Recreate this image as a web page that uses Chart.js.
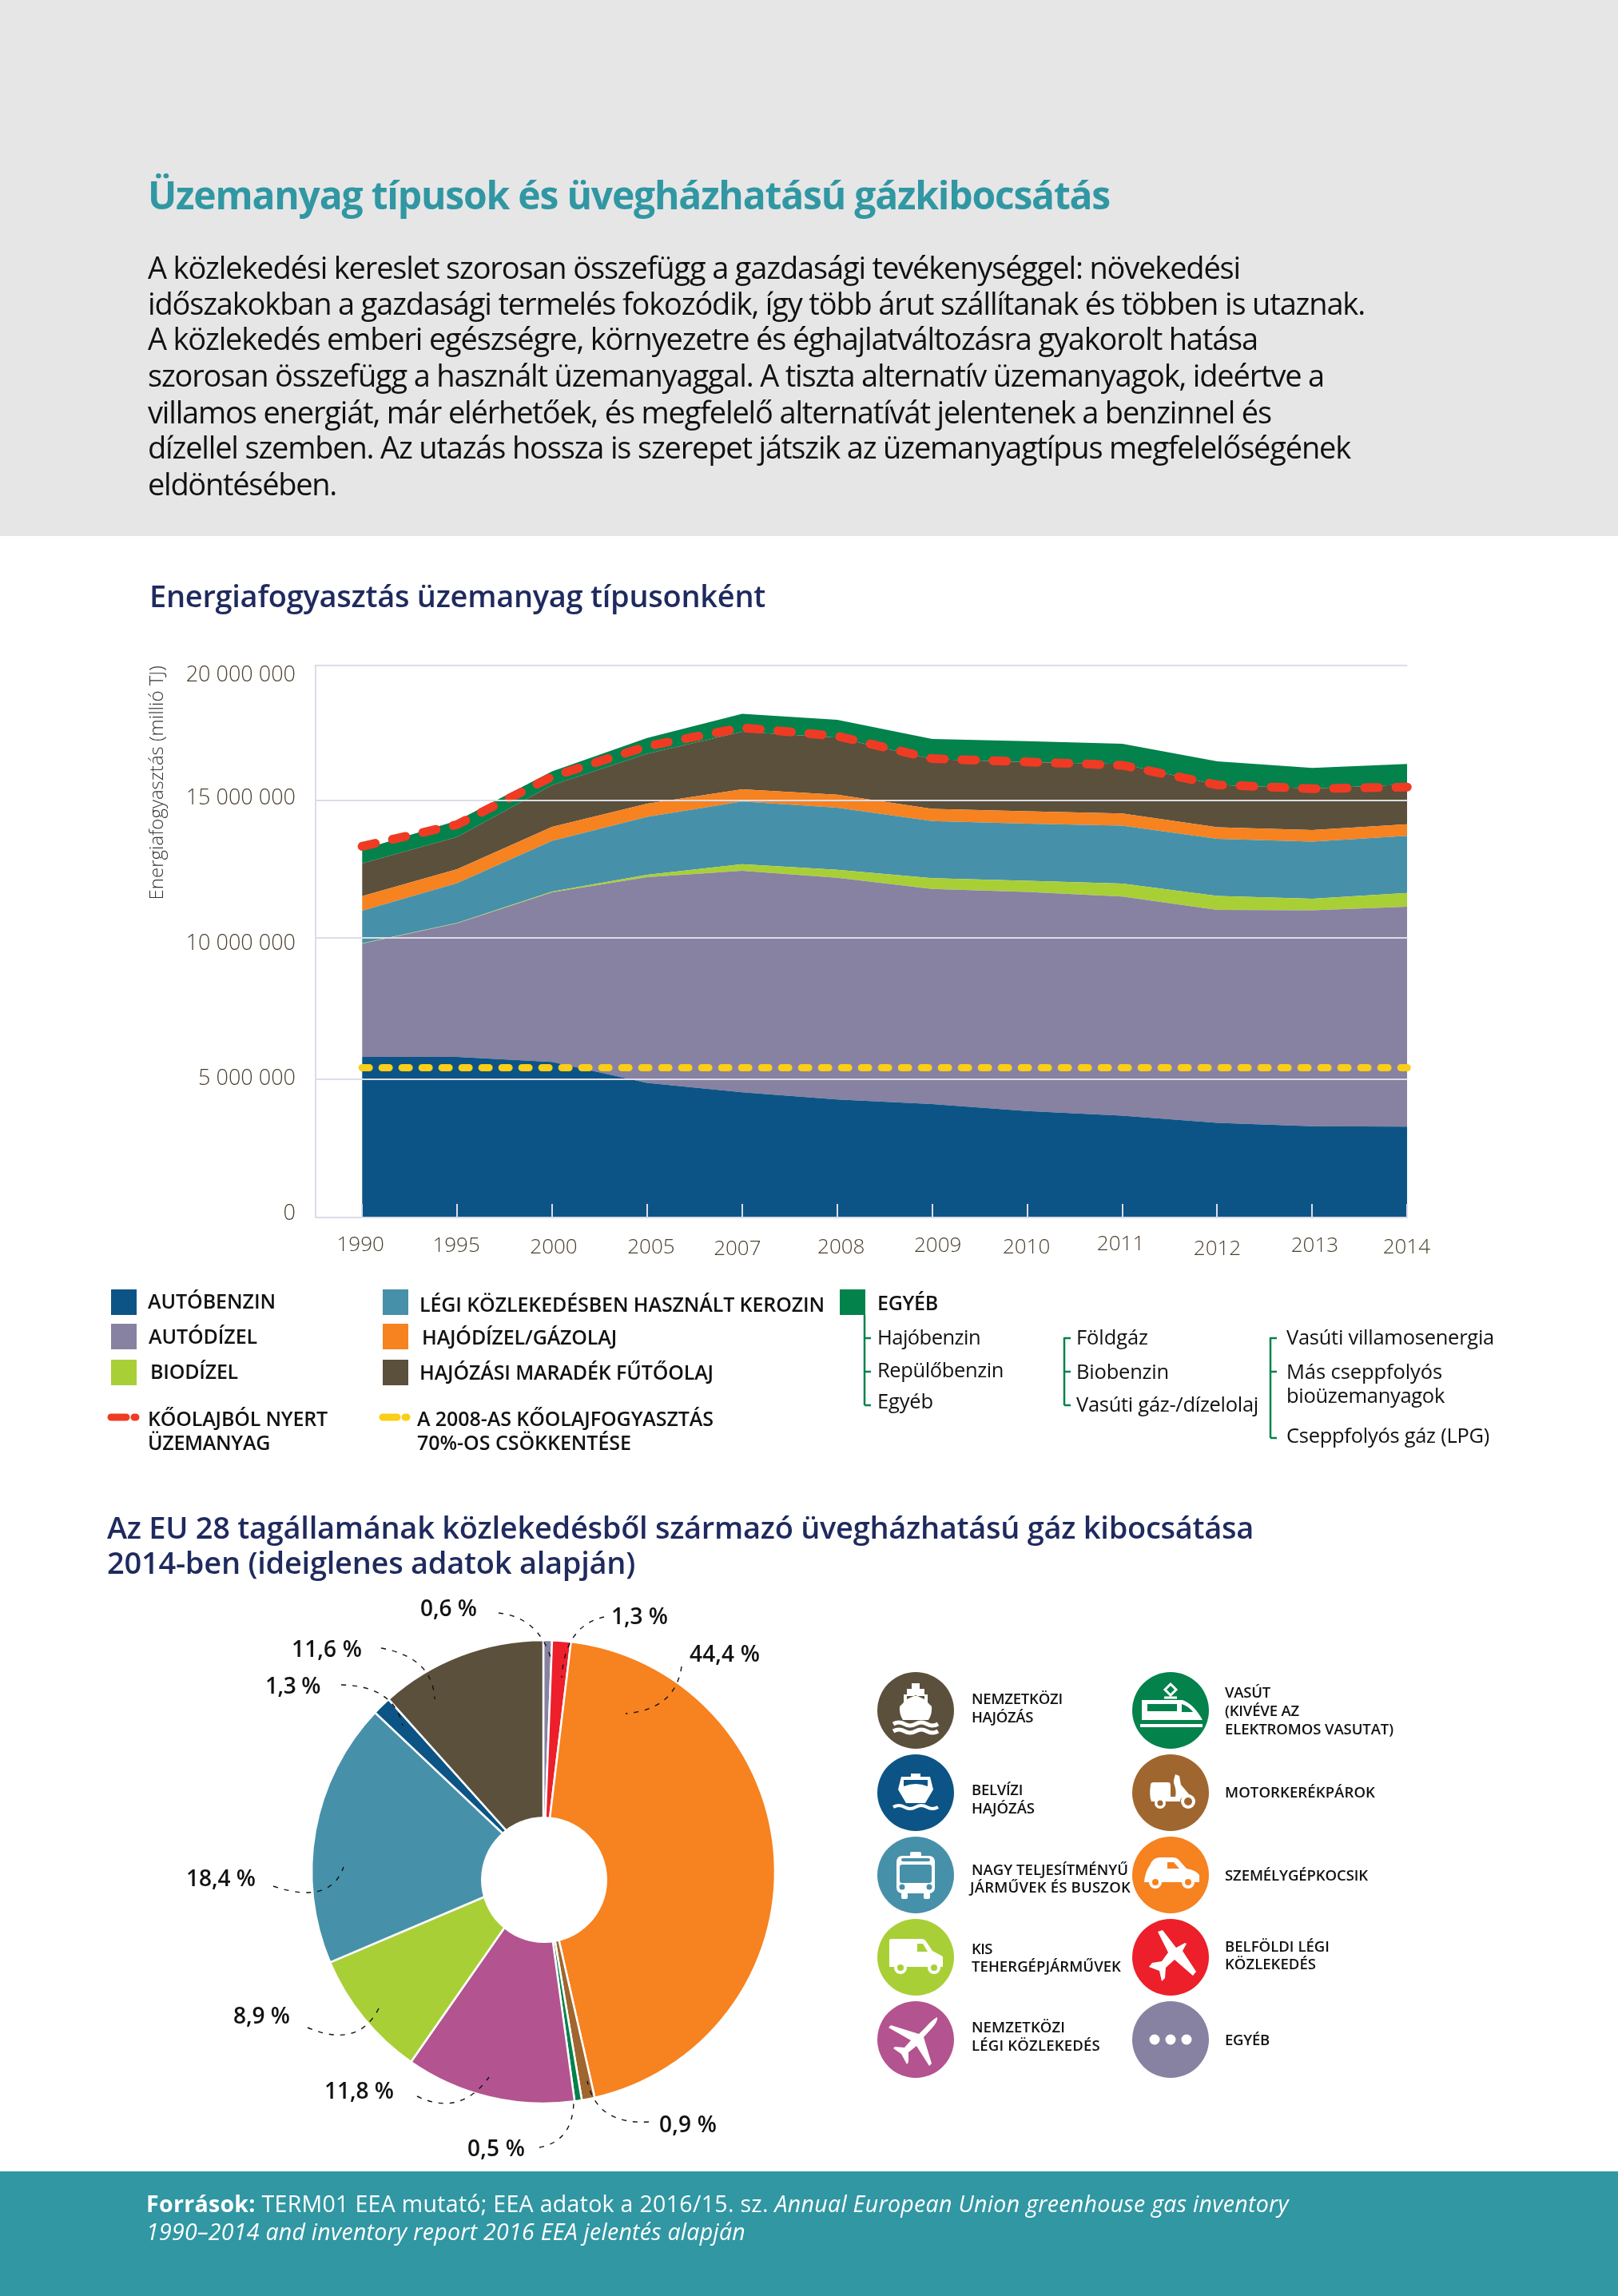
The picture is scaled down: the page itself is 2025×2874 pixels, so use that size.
<!DOCTYPE html>
<html lang="hu">
<head>
<meta charset="utf-8">
<title>Üzemanyag típusok és üvegházhatású gázkibocsátás</title>
<script src="https://cdn.jsdelivr.net/npm/chart.js@4/dist/chart.umd.min.js"></script>
<style>
  html, body { margin: 0; padding: 0; background: #fff; }
  body { position: relative; width: 2025px; height: 2874px; overflow: hidden; font-family: "Open Sans", sans-serif; }
  .band { position: absolute; left: 0; width: 2025px; }
  .txt { position: absolute; white-space: pre; line-height: 1; transform: translateY(-50%); }
  canvas { position: absolute; }
  svg { position: absolute; left: 0; top: 0; }
</style>
</head>
<body>
<div class="band" style="top:0;height:671px;background:#e6e6e6"></div>
<div class="band" style="top:2718px;height:156px;background:#3097a3"></div>

<canvas id="areaChart" width="1652" height="788" style="left:175px;top:792px"></canvas>
<canvas id="pieChart" width="640" height="640" style="left:360px;top:2023px"></canvas>

<svg width="2025" height="2874" viewBox="0 0 2025 2874">
  <!-- legend swatches -->
  <g>
    <rect x="139" y="1614" width="32" height="32" fill="#0d5486"/>
    <rect x="139" y="1657" width="32" height="32" fill="#8781a2"/>
    <rect x="139" y="1702" width="32" height="32" fill="#a9cf37"/>
    <rect x="479" y="1614" width="32" height="32" fill="#4790a9"/>
    <rect x="479" y="1657" width="32" height="32" fill="#f68220"/>
    <rect x="479" y="1702" width="32" height="32" fill="#5b503c"/>
    <rect x="1051" y="1614" width="32" height="32" fill="#03824c"/>
  </g>
  <!-- dashed line keys -->
  <g fill="none" stroke-width="9" stroke-linecap="round">
    <path d="M139 1774H158M168 1774H170" stroke="#ef3b24"/>
    <path d="M479 1774H497M507 1774H509" stroke="#fbce17"/>
  </g>
  <!-- brackets of the other fuels -->
  <g fill="none" stroke="#03824c" stroke-width="2.5">
    <path d="M1082 1646V1759M1082 1675H1090M1082 1717H1090M1082 1759H1090"/>
    <path d="M1332 1674V1759M1332 1675H1340M1332 1717H1340M1332 1759H1340"/>
    <path d="M1590 1674V1800M1590 1675H1598M1590 1717H1598M1590 1800H1598"/>
  </g>
  <!-- pie leaders -->
  <g fill="none" stroke="#111" stroke-width="1.4" stroke-dasharray="6 8">
    <path d="M624 2019Q676 2025 691 2081"/>
    <path d="M756 2024Q707 2035 703 2100"/>
    <path d="M853 2086Q845 2140 783 2145"/>
    <path d="M477 2063Q542 2075 544 2127"/>
    <path d="M427 2109Q492 2110 504 2160"/>
    <path d="M342 2361Q413 2385 430 2337"/>
    <path d="M385 2538Q448 2565 474 2514"/>
    <path d="M522 2624Q576 2650 612 2600"/>
    <path d="M675 2688Q717 2680 718 2631"/>
    <path d="M812 2656Q747 2660 735 2605"/>
  </g>
  <!-- sector icons -->
  <g transform="translate(1146 2141)">
    <circle r="48" fill="#5b503c"/>
    <path fill="#fff" d="M-5 -34H5V-27H11V-20H15V-10L20 -5Q21 4 16 12H-16Q-21 4 -20 -5L-15 -10V-20H-11V-27H-5Z"/>
    <path fill="#5b503c" d="M-11 -18H11V-14L0 -19L-11 -14Z"/>
    <path fill="none" stroke="#fff" stroke-width="5" d="M-28 17Q-21 13 -14 17T0 17T14 17T28 17M-28 26Q-21 22 -14 26T0 26T14 26T28 26"/>
  </g>
  <g transform="translate(1146 2244)">
    <circle r="48" fill="#0d5486"/>
    <path fill="#fff" d="M-6 -24H6V-20H18L22 -4L12 13H-12L-22 -4L-18 -20H-6Z"/>
    <path fill="#0d5486" d="M-15 -16H15V-8Q0 -14 -15 -8Z"/>
    <path fill="none" stroke="#fff" stroke-width="4" d="M-28 18Q-21 14 -14 18T0 18T14 18T28 18"/>
  </g>
  <g transform="translate(1146 2347)">
    <circle r="48" fill="#4790a9"/>
    <rect x="-24" y="-24" width="48" height="47" rx="7" fill="#fff"/>
    <rect x="-7" y="-29" width="14" height="6" rx="2" fill="#fff"/>
    <rect x="-20" y="-13" width="40" height="23" rx="3" fill="#4790a9"/>
    <rect x="-18" y="-21" width="36" height="4" rx="2" fill="#4790a9"/>
    <circle cx="-17" cy="15" r="3.5" fill="#4790a9"/><circle cx="17" cy="15" r="3.5" fill="#4790a9"/>
    <rect x="-18" y="22" width="8" height="8" rx="2" fill="#fff"/><rect x="10" y="22" width="8" height="8" rx="2" fill="#fff"/>
  </g>
  <g transform="translate(1146 2450)">
    <circle r="48" fill="#a9cf37"/>
    <path fill="#fff" d="M-33 -21Q-33 -23 -30 -23H7Q11 -23 13 -20L21 -8L34 -1V12H-33Z"/>
    <path fill="#a9cf37" d="M2 -17H9L15 -7H2Z"/>
    <circle cx="-19" cy="13" r="8" fill="#fff"/><circle cx="-19" cy="13" r="4" fill="#a9cf37"/>
    <circle cx="23" cy="13" r="8" fill="#fff"/><circle cx="23" cy="13" r="4" fill="#a9cf37"/>
  </g>
  <g transform="translate(1146 2553)">
    <circle r="48" fill="#b35390"/>
    <path fill="#fff" d="M27 -28Q21 -25 14 -17L4 -7L-31 -18L-34 -15L-6 1L-14 10L-26 9L-28 11L-18 18L-11 31L-9 28L-9 16L1 8L17 33L20 30L10 -3L21 -15Q28 -23 27 -28Z"/>
  </g>
  <g transform="translate(1465 2141)">
    <circle r="48" fill="#03824c"/>
    <path fill="none" stroke="#fff" stroke-width="3" d="M0 -33L-7 -26L0 -19L7 -26ZM-8 -16H8"/>
    <path fill="#fff" d="M-36 -13H15Q29 -8 40 12H-36Z"/>
    <path fill="#03824c" d="M-29 -8H8V1H-29ZM14 -8Q23 -5 28 2H14Z"/>
    <path fill="#fff" d="M-38 17H40V21H-38Z"/>
  </g>
  <g transform="translate(1465 2244)">
    <circle r="48" fill="#a0662f"/>
    <path fill="#fff" d="M6 -23L11 -21L13 -10L24 3L16 6Q12 6 12 11H-24Q-27 4 -25 -10Q-25 -13 -21 -13H-3Q0 -13 0 -9V5H6Q8 -2 4 -12V-16Z"/>
    <circle cx="-13" cy="13" r="7" fill="#fff"/><circle cx="-13" cy="13" r="3.5" fill="#a0662f"/>
    <circle cx="22" cy="11" r="9" fill="#fff"/><circle cx="22" cy="11" r="5" fill="#a0662f"/>
  </g>
  <g transform="translate(1465 2347)">
    <circle r="48" fill="#f68220"/>
    <path fill="#fff" d="M-33 9Q-32 -4 -26 -12Q-22 -22 -14 -22H3Q8 -22 12 -17L20 -8Q32 -6 36 0L36 9Z"/>
    <path fill="#f68220" d="M-4 -16H4L11 -8H-4Z"/>
    <circle cx="-19" cy="9" r="8" fill="#fff"/><circle cx="-19" cy="9" r="4" fill="#f68220"/>
    <circle cx="22" cy="9" r="8" fill="#fff"/><circle cx="22" cy="9" r="4" fill="#f68220"/>
  </g>
  <g transform="translate(1465 2450)">
    <circle r="48" fill="#ec1f2b"/>
    <path fill="#fff" d="M-16 -32L-10 -34L7 -12L18 -18L20 -17L15 -8L32 18L28 23L5 3L-6 13L-7 26L-11 30L-14 17L-27 12L-23 7L-11 5L-3 -6Z"/>
  </g>
  <g transform="translate(1465 2553)">
    <circle r="48" fill="#8781a2"/>
    <circle cx="-20" r="6.5" fill="#fff"/><circle r="6.5" fill="#fff"/><circle cx="20" r="6.5" fill="#fff"/>
  </g>
</svg>

<script>
// categories and series
const years = ['1990','1995','2000','2005','2007','2008','2009','2010','2011','2012','2013','2014'];
const autobenzin = [5820000,5820000,5640000,4880000,4535000,4280000,4110000,3855000,3690000,3430000,3310000,3295000];
const autodizel = [4100000,4840000,6140000,7450000,8030000,8030000,7800000,7940000,7940000,7720000,7820000,7970000];
const biodizel = [15000,15000,30000,90000,240000,290000,390000,410000,470000,500000,420000,500000];
const kerozin = [1180000,1440000,1840000,2100000,2270000,2250000,2070000,2070000,2100000,2070000,2070000,2070000];
const hajodizel = [530000,510000,510000,480000,440000,470000,440000,450000,440000,420000,420000,420000];
const maradekOlaj = [1190000,1160000,1510000,1810000,2090000,2070000,1800000,1780000,1800000,1540000,1510000,1440000];
const egyeb = [500000,600000,500000,570000,650000,650000,730000,760000,730000,850000,740000,740000];
const koolajbol = [13450000,14240000,15980000,17080000,17750000,17450000,16630000,16510000,16390000,15680000,15540000,15600000];
const csokkentes = [5430000,5430000,5430000,5430000,5430000,5430000,5430000,5430000,5430000,5430000,5430000,5430000];

// the gridlines of the original are not evenly spaced, so the ticks sit where it drew them
const yTickValues = [0,5000000,10120000,15120000,20000000];
const yTickLabels = ['0','5 000 000','10 000 000','15 000 000','20 000 000'];

// the hand placed labels of the original wander a bit: [dx, dy] per tick
const xNudge = [[-2,0],[-1,1],[2,3],[5,3],[-6,5],[5,3],[7,1],[-1,3],[-2,-1],[0,5],[3,1],[-1,3]];
const yNudge = [[0,-5],[0,-1],[0,7],[0,-2],[0,12]];

const pieLabels = ['Egyéb','Belföldi légi közlekedés','Személygépkocsik','Motorkerékpárok','Vasút','Nemzetközi légi közlekedés','Kis tehergépjárművek','Nagy teljesítményű járművek és buszok','Belvízi hajózás','Nemzetközi hajózás'];
const pieValues = [0.6,1.3,44.4,0.9,0.5,11.8,8.9,18.4,1.3,11.6];
const pieColors = ['#8781a2','#ec1f2b','#f68220','#a0662f','#03824c','#b35390','#a9cf37','#4790a9','#0d5486','#5b503c'];

// page texts: x, middle y, right edge, text, size, weight, colour
const navy = '#1f2a5e', ink = '#111', teal = '#3097a3';
const pageTexts = [
  [185,244,1389,'Üzemanyag típusok és üvegházhatású gázkibocsátás',48,700,teal],
  [185,334,1552,'A közlekedési kereslet szorosan összefügg a gazdasági tevékenységgel: növekedési',38,400,ink],
  [185,379,1708,'időszakokban a gazdasági termelés fokozódik, így több árut szállítanak és többen is utaznak.',38,400,ink],
  [185,423,1574,'A közlekedés emberi egészségre, környezetre és éghajlatváltozásra gyakorolt hatása',38,400,ink],
  [185,469,1657,'szorosan összefügg a használt üzemanyaggal. A tiszta alternatív üzemanyagok, ideértve a',38,400,ink],
  [185,515,1591,'villamos energiát, már elérhetőek, és megfelelő alternatívát jelentenek a benzinnel és',38,400,ink],
  [185,559,1690,'dízellel szemben. Az utazás hossza is szerepet játszik az üzemanyagtípus megfelelőségének',38,400,ink],
  [185,605,421,'eldöntésében.',38,400,ink],
  [187,745,958,'Energiafogyasztás üzemanyag típusonként',38,600,navy],
  [134,1911,1569,'Az EU 28 tagállamának közlekedésből származó üvegházhatású gáz kibocsátása',38,600,navy],
  [134,1955,795,'2014-ben (ideiglenes adatok alapján)',38,600,navy],
  // legend
  [185,1628,345,'AUTÓBENZIN',25,600,ink],
  [186,1672,322,'AUTÓDÍZEL',25,600,ink],
  [188,1716,298,'BIODÍZEL',25,600,ink],
  [525,1632,1032,'LÉGI KÖZLEKEDÉSBEN HASZNÁLT KEROZIN',25,600,ink],
  [528,1673,772,'HAJÓDÍZEL/GÁZOLAJ',25,600,ink],
  [525,1717,893,'HAJÓZÁSI MARADÉK FŰTŐOLAJ',25,600,ink],
  [1098,1630,1174,'EGYÉB',25,600,ink],
  [1098,1674,1227,'Hajóbenzin',25.5,400,ink],
  [1098,1715,1256,'Repülőbenzin',25.5,400,ink],
  [1098,1754,1168,'Egyéb',25.5,400,ink],
  [1347,1674,1437,'Földgáz',25.5,400,ink],
  [1347,1717,1463,'Biobenzin',25.5,400,ink],
  [1347,1758,1575,'Vasúti gáz-/dízelolaj',25.5,400,ink],
  [1610,1674,1870,'Vasúti villamosenergia',25.5,400,ink],
  [1610,1717,1805,'Más cseppfolyós',25.5,400,ink],
  [1610,1747,1808,'bioüzemanyagok',25.5,400,ink],
  [1610,1797,1864,'Cseppfolyós gáz (LPG)',25.5,400,ink],
  [185,1775,410,'KŐOLAJBÓL NYERT',25,600,ink],
  [185,1805,338,'ÜZEMANYAG',25,600,ink],
  [522,1775,893,'A 2008-AS KŐOLAJFOGYASZTÁS',25,600,ink],
  [522,1805,790,'70%-OS CSÖKKENTÉSE',25,600,ink],
  // pie labels
  [526,2012,597,'0,6 %',28,600,ink],
  [765,2022,836,'1,3 %',28,600,ink],
  [863,2069,951,'44,4 %',28,600,ink],
  [365,2063,453,'11,6 %',28,600,ink],
  [332,2109,401,'1,3 %',28,600,ink],
  [233,2350,320,'18,4 %',28,600,ink],
  [292,2522,363,'8,9 %',28,600,ink],
  [406,2616,493,'11,8 %',28,600,ink],
  [585,2688,657,'0,5 %',28,600,ink],
  [825,2658,897,'0,9 %',28,600,ink],
  // icon captions
  [1216,2126,1330,'NEMZETKÖZI',18.5,600,ink],
  [1216,2149,1293,'HAJÓZÁS',18.5,600,ink],
  [1216,2240,1280,'BELVÍZI',18.5,600,ink],
  [1216,2263,1295,'HAJÓZÁS',18.5,600,ink],
  [1216,2340,1412,'NAGY TELJESÍTMÉNYŰ',18.5,600,ink],
  [1214,2362,1415,'JÁRMŰVEK ÉS BUSZOK',18.5,600,ink],
  [1216,2439,1242,'KIS',18.5,600,ink],
  [1216,2461,1403,'TEHERGÉPJÁRMŰVEK',18.5,600,ink],
  [1216,2537,1333,'NEMZETKÖZI',18.5,600,ink],
  [1216,2560,1377,'LÉGI KÖZLEKEDÉS',18.5,600,ink],
  [1533,2118,1590,'VASÚT',18.5,600,ink],
  [1533,2141,1626,'(KIVÉVE AZ',18.5,600,ink],
  [1533,2164,1744,'ELEKTROMOS VASUTAT)',18.5,600,ink],
  [1533,2243,1721,'MOTORKERÉKPÁROK',18.5,600,ink],
  [1533,2347,1712,'SZEMÉLYGÉPKOCSIK',18.5,600,ink],
  [1533,2436,1664,'BELFÖLDI LÉGI',18.5,600,ink],
  [1533,2458,1647,'KÖZLEKEDÉS',18.5,600,ink],
  [1533,2553,1589,'EGYÉB',18.5,600,ink],
  // sources
  [183,2758,1613,'<b>Források:</b> TERM01 EEA mutató; EEA adatok a 2016/15. sz. <i>Annual European Union greenhouse gas inventory</i>',28.5,400,'#fff'],
  [183,2793,933,'<i>1990–2014 and inventory report 2016 EEA jelentés alapján</i>',28.5,400,'#fff']
];

//put the texts on the page and squeeze them to the width they have in the original
pageTexts.forEach(([x, y, right, text, size, weight, color]) => {
  const el = document.createElement('div');
  el.className = 'txt';
  el.innerHTML = text;
  el.style.cssText = `left:${x}px;top:${y}px;font-size:${size}px;font-weight:${weight};color:${color}`;
  document.body.appendChild(el);
  const extra = (right - x) - el.getBoundingClientRect().width;
  el.style.letterSpacing = `${extra / el.textContent.length}px`;
});

//moves the axis labels after the library has placed them
const tickNudge = {
  id: 'tickNudge',
  afterUpdate(chart) {
    [['x', xNudge], ['y', yNudge]].forEach(([id, nudge]) => {
      chart.scales[id].getLabelItems().forEach((item, i) => {
        item.options.translation[0] += nudge[i][0];
        item.options.translation[1] += nudge[i][1];
      });
    });
  }
};

const toPoints = values => values.map((v, i) => ({ x: i, y: v }));

function areaSet(label, values, color, fill) {
  return {
    label: label,
    data: toPoints(values),
    backgroundColor: color,
    borderColor: color,
    borderWidth: 0,
    pointRadius: 0,
    tension: 0,
    fill: fill,
    order: 2
  };
}

function dashSet(label, values, color, width, dash) {
  return {
    label: label,
    data: toPoints(values),
    borderColor: color,
    borderWidth: width,
    borderDash: dash,
    borderCapStyle: 'round',
    pointRadius: 0,
    tension: 0,
    fill: false,
    stack: label,
    clip: false,
    order: 1
  };
}

const gridColor = '#dcdce8';
const axisInk = '#4a3f2e';

new Chart(document.getElementById('areaChart'), {
  type: 'line',
  data: {
    datasets: [
      areaSet('Autóbenzin', autobenzin, '#0d5486', 'origin'),
      areaSet('Autódízel', autodizel, '#8781a2', '-1'),
      areaSet('Biodízel', biodizel, '#a9cf37', '-1'),
      areaSet('Légi közlekedésben használt kerozin', kerozin, '#4790a9', '-1'),
      areaSet('Hajódízel/gázolaj', hajodizel, '#f68220', '-1'),
      areaSet('Hajózási maradék fűtőolaj', maradekOlaj, '#5b503c', '-1'),
      areaSet('Egyéb', egyeb, '#03824c', '-1'),
      dashSet('Kőolajból nyert üzemanyag', koolajbol, '#ef3b24', 11, [17, 22]),
      dashSet('A 2008-as kőolajfogyasztás 70%-os csökkentése', csokkentes, '#fbce17', 9, [9, 16])
    ]
  },
  options: {
    responsive: false,
    animation: false,
    plugins: { legend: { display: false }, tooltip: { enabled: false } },
    events: [],
    scales: {
      x: {
        type: 'linear',
        min: -0.489,
        max: 11,
        afterFit: scale => { scale.height = 56; },
        ticks: {
          stepSize: 1,
          includeBounds: false,
          autoSkip: false,
          maxRotation: 0,
          padding: 36,
          color: axisInk,
          font: { family: 'Open Sans', size: 26, weight: 300 },
          callback: v => years[v]
        },
        grid: { drawOnChartArea: false, color: gridColor, lineWidth: 2, tickLength: -17, z: 1 },
        border: { color: gridColor, width: 2, z: 1 }
      },
      y: {
        stacked: true,
        min: 0,
        max: 20000000,
        afterFit: scale => { scale.width = 220; },
        afterBuildTicks: scale => { scale.ticks = yTickValues.map(v => ({ value: v })); },
        ticks: {
          autoSkip: false,
          padding: 25,
          color: axisInk,
          font: { family: 'Open Sans', size: 27, weight: 300 },
          callback: (v, i) => yTickLabels[i]
        },
        grid: { color: gridColor, lineWidth: 2, drawTicks: false, z: 1 },
        border: { color: gridColor, width: 2, z: 1 },
        title: {
          display: true,
          text: 'Energiafogyasztás (millió TJ)',
          align: 'end',
          color: '#333',
          padding: { top: 8, bottom: 0 },
          font: { family: 'Open Sans', size: 24, weight: 300 }
        }
      }
    }
  },
  plugins: [tickNudge]
});

//the hole in the original is not centred on the pie, so it is punched by hand
const pieHole = {
  id: 'pieHole',
  afterDatasetsDraw(chart) {
    const arc = chart.getDatasetMeta(0).data[0];
    const ctx = chart.ctx;
    ctx.save();
    ctx.fillStyle = '#fff';
    ctx.beginPath();
    ctx.arc(arc.x + 1, arc.y + 10, 79, 0, Math.PI * 2);
    ctx.fill();
    ctx.restore();
  }
};

new Chart(document.getElementById('pieChart'), {
  type: 'pie',
  data: {
    labels: pieLabels,
    datasets: [{
      data: pieValues,
      backgroundColor: pieColors,
      borderColor: '#fff',
      borderWidth: 2.5
    }]
  },
  options: {
    responsive: false,
    animation: false,
    radius: 290,
    events: [],
    plugins: { legend: { display: false }, tooltip: { enabled: false } }
  },
  plugins: [pieHole]
});
</script>
</body>
</html>
